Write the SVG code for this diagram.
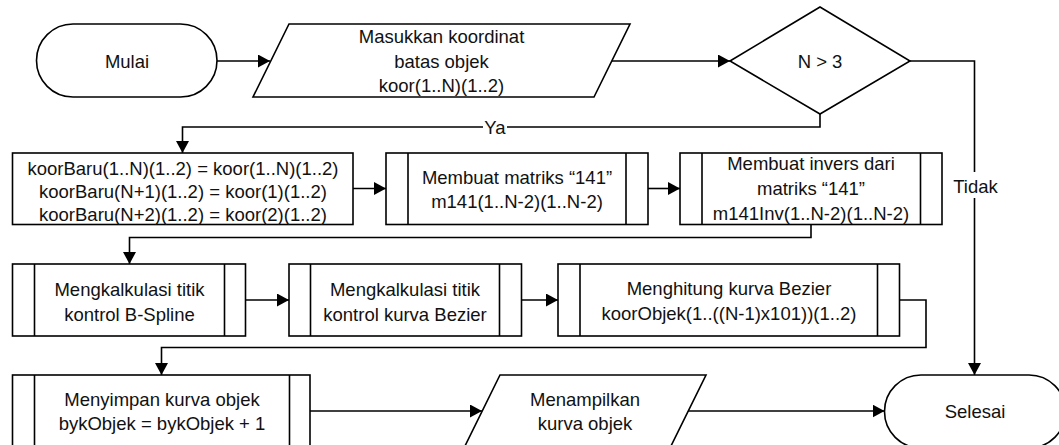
<svg xmlns="http://www.w3.org/2000/svg" width="1059" height="445" viewBox="0 0 1059 445">
<style>
.s{fill:#fff;stroke:#000;stroke-width:1.6}
.l{fill:none;stroke:#000;stroke-width:1.6}
.c{fill:none;stroke:#000;stroke-width:1.6}
.t{font-family:"Liberation Sans",Arial,sans-serif;font-size:18.5px;fill:#111;text-anchor:middle}
</style>
<defs>
<marker id="ah" markerUnits="userSpaceOnUse" markerWidth="13" markerHeight="14" refX="12" refY="6.5" orient="auto">
<path d="M0,0 L12,6.5 L0,13 z" fill="#000"/>
</marker>
</defs>
<rect width="1059" height="445" fill="#fff"/>
<g id="connectors">
<path id="c1" class="c" d="M217,61 H270" marker-end="url(#ah)"/>
<path id="c2" class="c" d="M612,61 H730" marker-end="url(#ah)"/>
<path id="c3" class="c" d="M820,114 V127 H182.5 V153" marker-end="url(#ah)"/>
<path id="c4" class="c" d="M910,61 H974.5 V375" marker-end="url(#ah)"/>
<path id="c5" class="c" d="M353,188.5 H386" marker-end="url(#ah)"/>
<path id="c6" class="c" d="M648,188.5 H680" marker-end="url(#ah)"/>
<path id="c7" class="c" d="M811,224.5 V237.5 H129.5 V264" marker-end="url(#ah)"/>
<path id="c8" class="c" d="M245.5,300 H289" marker-end="url(#ah)"/>
<path id="c9" class="c" d="M521.5,300 H558" marker-end="url(#ah)"/>
<path id="c10" class="c" d="M899.5,300 H926 V347.5 H161.5 V375" marker-end="url(#ah)"/>
<path id="c11" class="c" d="M310,411 H482" marker-end="url(#ah)"/>
<path id="c12" class="c" d="M688,411 H884.5" marker-end="url(#ah)"/>
<rect x="483" y="117" width="24" height="20" fill="#fff"/>
<text class="t" x="495" y="133.5">Ya</text>
<rect x="954" y="172" width="43" height="26" fill="#fff"/>
<text class="t" x="975.5" y="193">Tidak</text>
</g>
<g id="mulai">
<rect class="s" x="36.5" y="24" width="180.5" height="73" rx="36.5" ry="36.5"/>
<text class="t" x="127" y="67.5">Mulai</text>
</g>
<g id="input">
<polygon class="s" points="289,24 630,24 594,97 253,97"/>
<text class="t" x="441.5" y="43">Masukkan koordinat</text>
<text class="t" x="441.5" y="67.5">batas objek</text>
<text class="t" x="441.5" y="92">koor(1..N)(1..2)</text>
</g>
<g id="decision">
<polygon class="s" points="730,61 820,7 910,61 820,114"/>
<text class="t" x="820" y="67.5">N &gt; 3</text>
</g>
<g id="koorbaru">
<rect class="s" x="12.5" y="153" width="340.5" height="71.5"/>
<text class="t" x="183" y="174.5">koorBaru(1..N)(1..2) = koor(1..N)(1..2)</text>
<text class="t" x="183" y="197.5">koorBaru(N+1)(1..2) = koor(1)(1..2)</text>
<text class="t" x="183" y="220.5">koorBaru(N+2)(1..2) = koor(2)(1..2)</text>
</g>
<g id="matriks">
<rect class="s" x="386" y="153" width="262" height="71.5"/>
<path class="l" d="M408,153 V224.5 M626,153 V224.5"/>
<text class="t" x="517" y="183.5">Membuat matriks “141”</text>
<text class="t" x="517" y="208">m141(1..N-2)(1..N-2)</text>
</g>
<g id="invers">
<rect class="s" x="680" y="153" width="262" height="71.5"/>
<path class="l" d="M702,153 V224.5 M920.5,153 V224.5"/>
<text class="t" x="811" y="170">Membuat invers dari</text>
<text class="t" x="811" y="195">matriks “141”</text>
<text class="t" x="811" y="220">m141Inv(1..N-2)(1..N-2)</text>
</g>
<g id="bspline">
<rect class="s" x="12.5" y="264" width="233" height="72"/>
<path class="l" d="M34.5,264 V336 M224.5,264 V336"/>
<text class="t" x="129.5" y="296">Mengkalkulasi titik</text>
<text class="t" x="129.5" y="320.5">kontrol B-Spline</text>
</g>
<g id="bezier-ctrl">
<rect class="s" x="289" y="264" width="232.5" height="72"/>
<path class="l" d="M310.5,264 V336 M499.5,264 V336"/>
<text class="t" x="405" y="296">Mengkalkulasi titik</text>
<text class="t" x="405" y="320.5">kontrol kurva Bezier</text>
</g>
<g id="bezier">
<rect class="s" x="558" y="264" width="341.5" height="72"/>
<path class="l" d="M580,264 V336 M877.5,264 V336"/>
<text class="t" x="729" y="295">Menghitung kurva Bezier</text>
<text class="t" x="729" y="320">koorObjek(1..((N-1)x101))(1..2)</text>
</g>
<g id="simpan">
<rect class="s" x="12.5" y="375" width="297.5" height="73"/>
<path class="l" d="M34.5,375 V448 M289.5,375 V448"/>
<text class="t" x="162" y="405.5">Menyimpan kurva objek</text>
<text class="t" x="162" y="429.5">bykObjek = bykObjek + 1</text>
</g>
<g id="tampil">
<polygon class="s" points="500,375 706,375 669.5,449 463.5,449"/>
<text class="t" x="585" y="405.5">Menampilkan</text>
<text class="t" x="585" y="429.5">kurva objek</text>
</g>
<g id="selesai">
<rect class="s" x="884.5" y="375" width="181" height="73" rx="36.5" ry="36.5"/>
<text class="t" x="975" y="417.5">Selesai</text>
</g>
</svg>
